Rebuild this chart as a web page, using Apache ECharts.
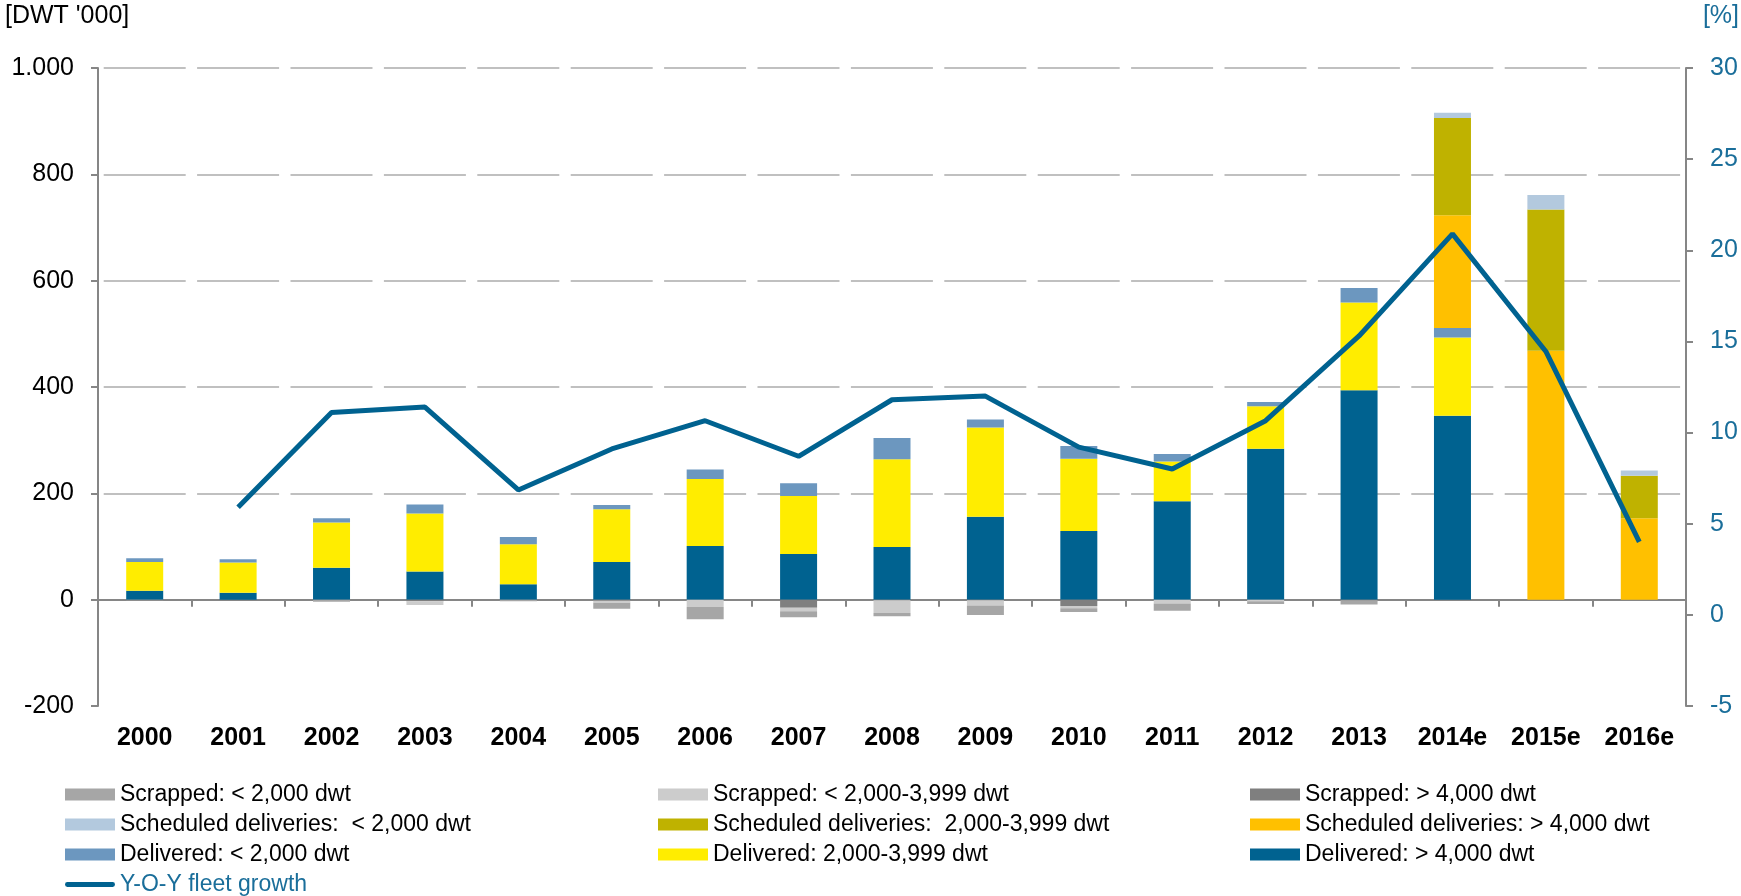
<!DOCTYPE html>
<html>
<head>
<meta charset="utf-8">
<script src="https://cdn.jsdelivr.net/npm/echarts@6/dist/echarts.min.js"></script>
<style>
html, body { margin: 0; padding: 0; background: #fff; }
#chart { width: 1741px; height: 896px; }
</style>
</head>
<body>
<div id="chart"></div>
<script>
// 年份
var years = ['2000', '2001', '2002', '2003', '2004', '2005', '2006', '2007', '2008',
	'2009', '2010', '2011', '2012', '2013', '2014e', '2015e', '2016e'];

// 已交付 (DWT '000)
var delivLarge = [17, 13, 60, 53, 29, 71, 101, 86, 99, 156, 129, 185, 284, 394, 346, null, null];
var delivMid = [54, 57, 85, 109, 75, 99, 126, 109, 165, 168, 136, 75, 80, 165, 147, null, null];
var delivSmall = [7, 6, 8, 17, 14, 8, 18, 24, 40, 15, 24, 14, 8, 27, 18, null, null];

// 计划交付
var schedLarge = [null, null, null, null, null, null, null, null, null, null, null, null, null, null, 212, 468, 153];
var schedMid = [null, null, null, null, null, null, null, null, null, null, null, null, null, null, 183, 266, 80];
var schedSmall = [null, null, null, null, null, null, null, null, null, null, null, null, null, null, 10, 27, 10];

// 拆解 (负值)
var scrapLarge = [0, 0, 0, -3, 0, -2, 0, -15, -1, -1, -12, 0, 0, -1, 0, 0, 0];
var scrapMid = [0, 0, 0, -7, 0, -4, -14, -7, -24, -10, -4, -7, -3, 0, 0, 0, 0];
var scrapSmall = [-1, 0, -4, 0, -3, -11, -23, -11, -6, -18, -7, -14, -5, -8, 0, 0, 0];

// 船队同比增长 [%]
var growth = [null, 5.9, 11.1, 11.4, 6.85, 9.1, 10.65, 8.7, 11.8, 12.0, 9.2, 8.0, 10.65, 15.3, 20.9, 14.45, 4.0];

var leftTicks = { min: -200, max: 1000, step: 200 };
var rightTicks = { min: -5, max: 30, step: 5 };

var byId = function(id) {
	return document.getElementById(id);
};

var font = 'Liberation Sans, Arial, sans-serif';
var blue = '#006290';
var textBlue = '#1a6e9a';
var axisGray = '#868686';

var barSeries = function(name, data, color) {
	return {
		name: name,
		type: 'bar',
		stack: 'total',
		barWidth: 37,
		data: data,
		itemStyle: { color: color },
		emphasis: { disabled: true }
	};
};

var makeLegend = function(left, names) {
	return {
		orient: 'vertical',
		left: left,
		top: 783,
		padding: 0,
		itemWidth: 50,
		itemHeight: 12,
		itemGap: 7,
		icon: 'rect',
		selectedMode: false,
		textStyle: { fontFamily: font, fontSize: 23, color: '#000', lineHeight: 22 },
		data: names
	};
};

var option = {
	animation: false,
	backgroundColor: '#fff',
	grid: { left: 98, right: 55, top: 68, bottom: 190 },
	graphic: [{
		type: 'text',
		left: 5,
		top: 4,
		style: { text: "[DWT '000]", font: '25px ' + font, fill: '#000' }
	}, {
		type: 'text',
		right: 2,
		top: 4,
		style: { text: '[%]', font: '25px ' + font, fill: textBlue }
	}],
	legend: [
		makeLegend(65, ['Scrapped: < 2,000 dwt', 'Scheduled deliveries:  < 2,000 dwt', 'Delivered: < 2,000 dwt', {
			name: 'Y-O-Y fleet growth',
			icon: 'path://M2.5,0 L49.5,0 A2.5,2.5 0 0 1 49.5,5 L2.5,5 A2.5,2.5 0 0 1 2.5,0 Z',
			itemStyle: { color: blue, borderWidth: 0 },
			textStyle: { color: textBlue }
		}]),
		makeLegend(658, ['Scrapped: < 2,000-3,999 dwt', 'Scheduled deliveries:  2,000-3,999 dwt', 'Delivered: 2,000-3,999 dwt']),
		makeLegend(1250, ['Scrapped: > 4,000 dwt', 'Scheduled deliveries: > 4,000 dwt', 'Delivered: > 4,000 dwt'])
	],
	xAxis: [{
		type: 'category',
		data: years,
		position: 'bottom',
		axisLine: { show: false, onZero: false },
		axisTick: { show: false },
		axisLabel: { fontFamily: font, fontSize: 25, fontWeight: 'bold', color: '#000', margin: 20 }
	}, {
		type: 'category',
		data: years,
		position: 'bottom',
		axisLine: { show: true, onZero: true, onZeroAxisIndex: 0, lineStyle: { color: axisGray, width: 2 } },
		axisTick: { show: true, length: 7, lineStyle: { color: axisGray, width: 2 } },
		axisLabel: { show: false }
	}],
	yAxis: [{
		type: 'value',
		min: leftTicks.min,
		max: leftTicks.max,
		interval: leftTicks.step,
		axisLine: { show: true, lineStyle: { color: axisGray, width: 2 } },
		axisTick: { show: true, length: 7, lineStyle: { color: axisGray, width: 2 } },
		axisLabel: {
			fontFamily: font, fontSize: 25, color: '#000', margin: 24,
			formatter: function(v) {
				return v === 1000 ? '1.000' : String(v);
			}
		},
		splitLine: {
			show: true,
			showMinLine: false,
			lineStyle: { color: '#c0c0c0', width: 2, type: [82, 11.4], dashOffset: 87.7 }
		}
	}, {
		type: 'value',
		min: rightTicks.min,
		max: rightTicks.max,
		interval: rightTicks.step,
		position: 'right',
		axisLine: { show: true, lineStyle: { color: axisGray, width: 2 } },
		axisTick: { show: true, length: 7, lineStyle: { color: axisGray, width: 2 } },
		axisLabel: { fontFamily: font, fontSize: 25, color: textBlue, margin: 24 },
		splitLine: { show: false }
	}],
	series: [
		barSeries('Delivered: > 4,000 dwt', delivLarge, '#006290'),
		barSeries('Delivered: 2,000-3,999 dwt', delivMid, '#ffed00'),
		barSeries('Delivered: < 2,000 dwt', delivSmall, '#6c97bf'),
		barSeries('Scheduled deliveries: > 4,000 dwt', schedLarge, '#ffc000'),
		barSeries('Scheduled deliveries:  2,000-3,999 dwt', schedMid, '#bfb200'),
		barSeries('Scheduled deliveries:  < 2,000 dwt', schedSmall, '#b3c9de'),
		barSeries('Scrapped: > 4,000 dwt', scrapLarge, '#7f7f7f'),
		barSeries('Scrapped: < 2,000-3,999 dwt', scrapMid, '#cccccc'),
		barSeries('Scrapped: < 2,000 dwt', scrapSmall, '#a6a6a6'),
		{
			name: 'Y-O-Y fleet growth',
			type: 'line',
			yAxisIndex: 1,
			data: growth,
			symbol: 'none',
			z: 5,
			lineStyle: { color: blue, width: 5 },
			itemStyle: { color: blue },
			emphasis: { disabled: true }
		}
	]
};

var chart = echarts.init(byId('chart'));
chart.setOption(option);
</script>
</body>
</html>
